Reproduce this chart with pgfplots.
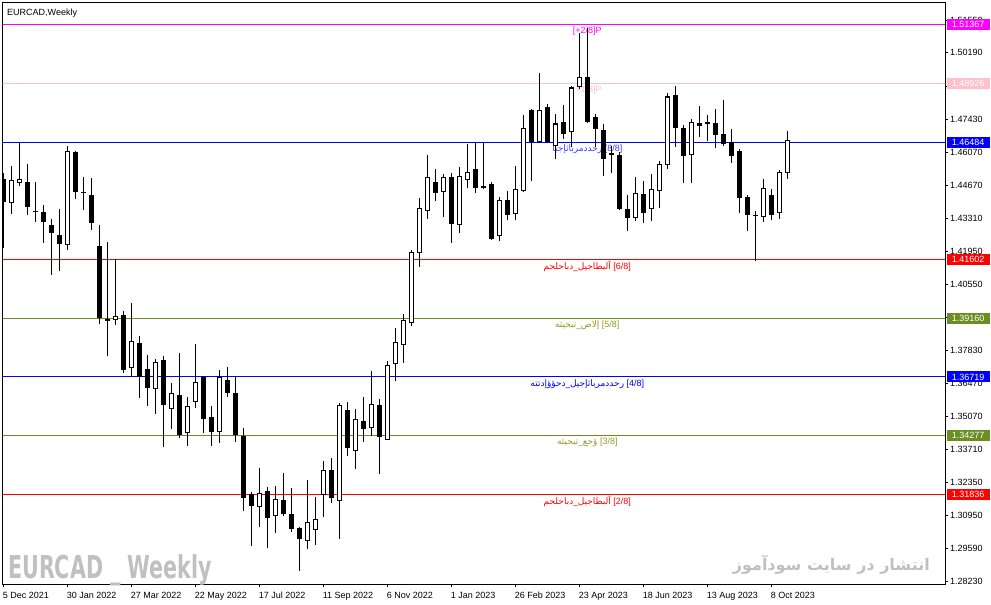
\documentclass[border=0pt]{standalone}
\usepackage{fontspec}
\setmainfont{Liberation Sans}
\newfontfamily\arabicfont[Script=Arabic]{DejaVu Sans}
\newfontfamily\wmfont{DejaVu Sans}
\usepackage{graphicx}
\usepackage{pgfplots}
\usepackage{pgfplotstable}
\pgfplotsset{compat=1.18}
\TeXXeTstate=1

\definecolor{mtmag}{RGB}{255,0,255}
\definecolor{mtpink}{RGB}{255,192,203}
\definecolor{mtblue}{RGB}{0,0,255}
\definecolor{mtred}{RGB}{255,0,0}
\definecolor{mtolive}{RGB}{107,142,35}
\definecolor{mtolivetxt}{RGB}{150,150,40}
\definecolor{mtbluetxt}{RGB}{60,60,255}
\definecolor{wm}{RGB}{192,192,192}

\pgfplotstableread{
i o h l c
0 1.44927 1.45176 1.42060 1.43971
1 1.43929 1.45467 1.43472 1.44886
2 1.44761 1.46422 1.44636 1.44927
3 1.44802 1.45550 1.43431 1.43763
4 1.43597 1.44802 1.43140 1.43555
5 1.43555 1.43846 1.42267 1.43140
6 1.43015 1.43265 1.40938 1.42683
7 1.42600 1.43680 1.41104 1.42226
8 1.42184 1.46298 1.41977 1.46090
9 1.46049 1.46090 1.44096 1.44387
10 1.44387 1.45010 1.43639 1.44345
11 1.44262 1.44969 1.42808 1.43098
12 1.42143 1.43015 1.38903 1.39152
13 1.39111 1.42309 1.37573 1.39027
14 1.39069 1.41603 1.38861 1.39235
15 1.39277 1.39443 1.36866 1.36991
16 1.37074 1.39775 1.36700 1.38196
17 1.38113 1.38404 1.35828 1.36700
18 1.37033 1.37614 1.35495 1.36243
19 1.36202 1.37448 1.35162 1.37323
20 1.37407 1.37573 1.33791 1.35536
21 1.35370 1.36451 1.34539 1.36035
22 1.35952 1.37697 1.34165 1.34290
23 1.34373 1.35869 1.33833 1.35495
24 1.35661 1.38072 1.35412 1.36492
25 1.36700 1.36742 1.34373 1.34955
26 1.35038 1.35495 1.33833 1.34414
27 1.34414 1.36991 1.33957 1.36700
28 1.36576 1.37116 1.35869 1.36035
29 1.36035 1.36700 1.33999 1.34290
30 1.34248 1.34581 1.31132 1.31673
31 1.31839 1.31922 1.29678 1.31340
32 1.31298 1.32919 1.30467 1.31880
33 1.31963 1.32130 1.29595 1.30841
34 1.30924 1.32171 1.30218 1.31631
35 1.31589 1.32711 1.30924 1.31007
36 1.31007 1.32088 1.30259 1.30384
37 1.30426 1.30467 1.28639 1.29969
38 1.29885 1.32421 1.29553 1.30675
39 1.30343 1.31714 1.29719 1.30800
40 1.31797 1.33210 1.30883 1.32836
41 1.32836 1.33335 1.31464 1.31673
42 1.31547 1.35619 1.29969 1.35536
43 1.35329 1.35661 1.33418 1.33750
44 1.33625 1.35370 1.32878 1.34955
45 1.34871 1.35869 1.33999 1.34539
46 1.34581 1.36949 1.34248 1.35578
47 1.35536 1.35786 1.32670 1.34207
48 1.34082 1.37365 1.34082 1.37199
49 1.37240 1.38737 1.36534 1.38155
50 1.38030 1.39318 1.37282 1.39069
51 1.38944 1.41977 1.38820 1.41894
52 1.41852 1.44138 1.41271 1.43722
53 1.43597 1.45924 1.43265 1.45010
54 1.44802 1.45343 1.44012 1.44345
55 1.44387 1.45135 1.43348 1.45010
56 1.45010 1.45176 1.42267 1.43057
57 1.43015 1.45426 1.42683 1.45052
58 1.44886 1.46381 1.44553 1.45218
59 1.45343 1.46422 1.44345 1.44553
60 1.44553 1.46422 1.44512 1.44636
61 1.44719 1.44802 1.42392 1.42434
62 1.42558 1.44179 1.42350 1.44054
63 1.44054 1.44428 1.43223 1.43431
64 1.43472 1.45467 1.43223 1.44512
65 1.44428 1.47586 1.44387 1.47046
66 1.47794 1.47835 1.44844 1.46464
67 1.46464 1.49331 1.46422 1.47794
68 1.47918 1.48084 1.46422 1.46464
69 1.46298 1.47627 1.45758 1.47253
70 1.47295 1.48001 1.46589 1.46796
71 1.46879 1.48832 1.46256 1.48749
72 1.48749 1.51034 1.48666 1.49165
73 1.49206 1.51242 1.47253 1.47295
74 1.47503 1.47627 1.46256 1.47004
75 1.46963 1.47212 1.45052 1.45758
76 1.45924 1.46298 1.45176 1.46007
77 1.45924 1.46049 1.43639 1.43680
78 1.43680 1.44262 1.42766 1.43306
79 1.43306 1.45010 1.43181 1.44345
80 1.44304 1.44844 1.43098 1.43514
81 1.43680 1.45135 1.43181 1.44512
82 1.44428 1.45675 1.43722 1.45550
83 1.45509 1.48541 1.45343 1.48375
84 1.48417 1.48791 1.46256 1.47046
85 1.47046 1.47170 1.44761 1.45883
86 1.45924 1.47420 1.44761 1.47336
87 1.47253 1.47960 1.46672 1.47129
88 1.47212 1.47586 1.46505 1.47295
89 1.47253 1.47835 1.46215 1.46755
90 1.46796 1.48209 1.46298 1.46381
91 1.46464 1.47004 1.45592 1.45883
92 1.46090 1.46173 1.43514 1.44138
93 1.44179 1.44262 1.42766 1.43431
94 1.43431 1.43597 1.41520 1.43389
95 1.43348 1.44927 1.43140 1.44553
96 1.44262 1.44512 1.43223 1.43431
97 1.43514 1.45301 1.43265 1.45218
98 1.45176 1.46921 1.44927 1.46547
}\candles

\newcommand{\lblfont}{\fontsize{9}{10}\selectfont}
\tikzset{pbox/.style={fill=#1, text=white, font=\lblfont, minimum width=43pt, minimum height=11pt, inner sep=0pt}}

\begin{document}
\begin{tikzpicture}
\begin{axis}[
  at={(2.5pt,-2.5pt)}, anchor=north west,
  scale only axis, width=942.5pt, height=581.5pt,
  clip mode=individual,
  xmin=-0.1, xmax=117.71,
  ymin=1.28117, ymax=1.52281,
  axis line style={black, line width=1pt},
  tick style={black, line width=0.8pt},
  tick align=outside, major tick length=3pt,
  xtick pos=bottom, ytick pos=right,
  xtick={0,8,...,96},
  xticklabels={5 Dec 2021, 30 Jan 2022, 27 Mar 2022, 22 May 2022, 17 Jul 2022, 11 Sep 2022, 6 Nov 2022, 1 Jan 2023, 26 Feb 2023, 23 Apr 2023, 18 Jun 2023, 13 Aug 2023, 8 Oct 2023},
  ytick={1.51550,1.50190,1.48790,1.47430,1.46070,1.44670,1.43310,1.41950,1.40550,1.39190,1.37830,1.36470,1.35070,1.33710,1.32350,1.30950,1.29590,1.28230},
  yticklabels={1.51550,1.50190,1.48790,1.47430,1.46070,1.44670,1.43310,1.41950,1.40550,1.39190,1.37830,1.36470,1.35070,1.33710,1.32350,1.30950,1.29590,1.28230},
  x tick label style={font=\lblfont, anchor=north west, inner sep=0pt, text height=6.5pt, text depth=2pt, xshift=-0.7pt, yshift=-5pt},
  y tick label style={font=\lblfont, anchor=west, inner sep=0pt, xshift=2pt},
]
% Murrey math levels
\addplot[forget plot, color=mtmag, line width=1pt] coordinates {(-1,1.51367) (118,1.51367)};
\addplot[forget plot, color=mtpink, line width=1.1pt] coordinates {(-1,1.48926) (118,1.48926)};
\addplot[forget plot, color=mtblue, line width=1pt] coordinates {(-1,1.46484) (118,1.46484)};
\addplot[forget plot, color=mtred, line width=1pt] coordinates {(-1,1.41602) (118,1.41602)};
\addplot[forget plot, color=mtolive, line width=1pt] coordinates {(-1,1.39160) (118,1.39160)};
\addplot[forget plot, color=mtblue, line width=1pt] coordinates {(-1,1.36719) (118,1.36719)};
\addplot[forget plot, color=mtolive, line width=1pt] coordinates {(-1,1.34277) (118,1.34277)};
\addplot[forget plot, color=mtred, line width=1pt] coordinates {(-1,1.31836) (118,1.31836)};

% level labels
\node[font=\lblfont, text=mtmag, yshift=-7pt] at (axis cs:73,1.51367) {[+2/8]P};
\node[font=\lblfont, text=mtpink, yshift=-7pt] at (axis cs:73,1.48926) {[+1/8]P};
\node[font=\lblfont, text=mtbluetxt, yshift=-7pt] at (axis cs:73,1.46484) {{\arabicfont\beginR رحددمرباثإجيا\endR} [8/8]};
\node[font=\lblfont, text=mtred, yshift=-7pt] at (axis cs:73,1.41602) {{\arabicfont\beginR آلبطاجيل\_دباحلحم\endR} [6/8]};
\node[font=\lblfont, text=mtolivetxt, yshift=-7pt] at (axis cs:73,1.39160) {{\arabicfont\beginR إلاص\_تبحيثه\endR} [5/8]};
\node[font=\lblfont, text=mtblue, yshift=-7pt] at (axis cs:73,1.36719) {{\arabicfont\beginR رحددمرباثإجيل\_دحؤؤإدتته\endR} [4/8]};
\node[font=\lblfont, text=mtolivetxt, yshift=-7pt] at (axis cs:73,1.34277) {{\arabicfont\beginR ؤحع\_تبحيثه\endR} [3/8]};
\node[font=\lblfont, text=mtred, yshift=-7pt] at (axis cs:73,1.31836) {{\arabicfont\beginR آلبطاجيل\_دباحلحم\endR} [2/8]};

% wicks
\addplot[forget plot, draw=none, mark=none,
  error bars/.cd, y dir=plus, y explicit, error mark=none,
  error bar style={draw=black, line width=1pt}]
  table[x=i, y=l, y error expr=\thisrow{h}-\thisrow{l}] {\candles};
% bodies (outline / bearish fill)
\addplot[forget plot, draw=none, mark=none,
  error bars/.cd, y dir=plus, y explicit, error mark=none,
  error bar style={draw=black, line width=5pt}]
  table[x=i, y expr={min(\thisrow{o},\thisrow{c})},
        y error expr={max(abs(\thisrow{o}-\thisrow{c}),0.00045)}] {\candles};
% bullish interiors
\addplot[forget plot, draw=none, mark=none,
  error bars/.cd, y dir=plus, y explicit, error mark=none,
  error bar style={draw=white, line width=3pt}]
  table[x=i, y expr={(\thisrow{c}-\thisrow{o} > 0.0009) ? (\thisrow{o}+0.00042) : 1.3},
        y error expr={(\thisrow{c}-\thisrow{o} > 0.0009) ? (\thisrow{c}-\thisrow{o}-0.00084) : 0}] {\candles};

% anchor points for the price boxes on the right scale
\coordinate (P1) at (axis cs:120.59,1.51367);
\coordinate (P2) at (axis cs:120.59,1.48926);
\coordinate (P3) at (axis cs:120.59,1.46484);
\coordinate (P4) at (axis cs:120.59,1.41602);
\coordinate (P5) at (axis cs:120.59,1.39160);
\coordinate (P6) at (axis cs:120.59,1.36719);
\coordinate (P7) at (axis cs:120.59,1.34277);
\coordinate (P8) at (axis cs:120.59,1.31836);
\end{axis}

\node[pbox=mtmag] at (P1) {1.51367};
\node[pbox=mtpink] at (P2) {1.48926};
\node[pbox=mtblue] at (P3) {1.46484};
\node[pbox=mtred] at (P4) {1.41602};
\node[pbox=mtolive] at (P5) {1.39160};
\node[pbox=mtblue] at (P6) {1.36719};
\node[pbox=mtolive] at (P7) {1.34277};
\node[pbox=mtred] at (P8) {1.31836};

% title and watermarks
\node[anchor=base west, font=\lblfont, inner sep=0pt] at (7pt,-15pt) {EURCAD,Weekly};
\node[anchor=base west, inner sep=0pt, text=wm, font=\fontsize{31.5}{34}\wmfont\bfseries] at (8pt,-578pt) {\scalebox{0.655}[1]{EURCAD \_ Weekly}};
\node[anchor=base east, inner sep=0pt, text=wm, font=\fontsize{16}{20}\selectfont] at (930pt,-570pt) {\arabicfont\bfseries\beginR انتشار در سایت سودآموز\endR};
\pgfresetboundingbox
\useasboundingbox (0,0) rectangle (991pt,-605pt);
\end{tikzpicture}
\end{document}
